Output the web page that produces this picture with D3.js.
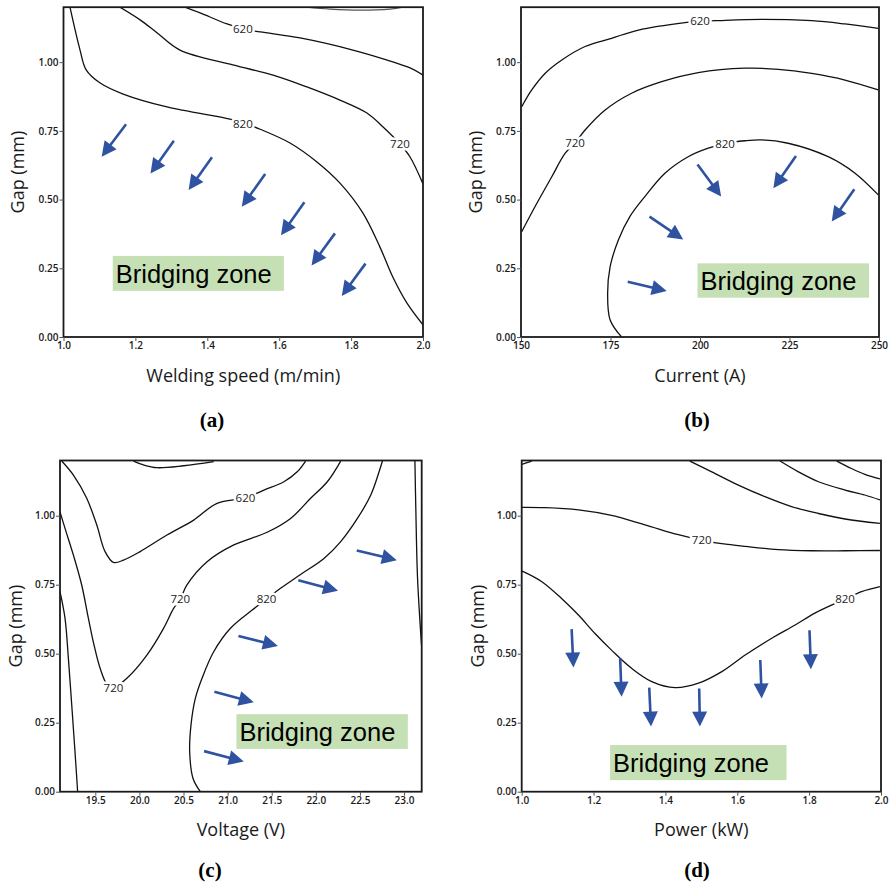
<!DOCTYPE html>
<html><head><meta charset="utf-8">
<script src="https://cdn.jsdelivr.net/npm/d3@7/dist/d3.min.js"></script>
<style>body{margin:0;background:#fff}</style>
</head><body>
<svg id="chart" width="893" height="885" xmlns="http://www.w3.org/2000/svg"></svg>
<script>
// ---------------- DATA ----------------
const gapTicks = [0, 0.25, 0.5, 0.75, 1.0];
const speedTicks = [1.0, 1.2, 1.4, 1.6, 1.8, 2.0];
const currentTicks = [150, 175, 200, 225, 250];
const voltageTicks = [19.5, 20.0, 20.5, 21.0, 21.5, 22.0, 22.5, 23.0];
const powerTicks = [1.0, 1.2, 1.4, 1.6, 1.8, 2.0];

// (a) Welding speed vs gap — contour lines [speed, gap]
const speedTopArc = [[1.677,1.2],[1.741,1.193],[1.824,1.189],[1.908,1.193],[1.944,1.2]];
const speed620 = [[1.338,1.2],[1.380,1.179],[1.455,1.139],[1.499,1.121],[1.547,1.110],[1.658,1.088],[1.805,1.044],[1.916,1.001],[1.964,0.979],[2.0,0.953]];
const speed720 = [[1.157,1.2],[1.213,1.154],[1.260,1.107],[1.324,1.044],[1.471,0.990],[1.583,0.953],[1.677,0.910],[1.769,0.862],[1.844,0.815],[1.889,0.764],[1.936,0.702],[1.964,0.655],[2.0,0.557]];
const speed820 = [[1.018,1.2],[1.046,1.044],[1.063,0.972],[1.102,0.924],[1.166,0.884],[1.288,0.837],[1.463,0.793],[1.499,0.780],[1.547,0.756],[1.630,0.706],[1.705,0.637],[1.769,0.560],[1.833,0.451],[1.880,0.328],[1.916,0.218],[1.955,0.124],[2.0,0.044]];
const speedLabels = [["620",1.499,1.121],["820",1.499,0.776],["720",1.936,0.702]];
const speedArrows = [[1.174,0.774,1.106,0.656],[1.307,0.714,1.242,0.595],[1.413,0.654,1.348,0.535],[1.561,0.593,1.496,0.474],[1.670,0.490,1.605,0.370],[1.755,0.377,1.690,0.260],[1.840,0.267,1.774,0.149]];

// (b) Current vs gap
const current620 = [[150.2,0.838],[153.0,0.899],[156.7,0.959],[161.4,1.008],[167.9,1.057],[175.3,1.087],[182.8,1.117],[195.8,1.144],[200.0,1.149],[204.2,1.151],[217.2,1.156],[231.2,1.151],[240.5,1.139],[249.8,1.123]];
const current720 = [[150.2,0.383],[153.9,0.474],[158.6,0.583],[162.3,0.668],[165.1,0.706],[167.9,0.753],[173.5,0.826],[180.9,0.887],[189.3,0.929],[199.5,0.962],[212.6,0.978],[221.9,0.974],[231.2,0.959],[240.5,0.935],[249.8,0.899]];
const current820 = [[178.1,0.0],[174.9,0.062],[174.2,0.159],[174.9,0.256],[177.2,0.353],[180.4,0.438],[184.6,0.511],[190.2,0.596],[196.7,0.656],[202.3,0.687],[207.0,0.704],[212.6,0.714],[217.2,0.717],[224.6,0.705],[235.8,0.656],[243.3,0.596],[249.8,0.517]];
const currentLabels = [["620",200.0,1.149],["720",165.1,0.706],["820",207.0,0.704]];
const currentArrows = [[199.3,0.628,205.9,0.511],[226.8,0.659,220.5,0.541],[243.1,0.538,236.8,0.420],[185.9,0.438,195.3,0.355],[179.8,0.201,190.7,0.167]];

// (c) Voltage vs gap
const voltageLeft = [[19.10,0.725],[19.157,0.628],[19.195,0.483],[19.233,0.314],[19.270,0.145],[19.30,0.0]];
const voltageTopArc = [[19.933,1.198],[20.047,1.184],[20.198,1.174],[20.502,1.181],[20.842,1.196]];
const voltage620 = [[19.119,1.198],[19.252,1.147],[19.403,1.063],[19.517,0.966],[19.611,0.870],[19.706,0.831],[19.820,0.839],[20.009,0.870],[20.312,0.930],[20.615,0.984],[20.880,1.045],[21.202,1.065],[21.411,1.093],[21.638,1.123],[21.789,1.159],[21.884,1.198]];
const voltage720 = [[19.10,1.014],[19.157,0.954],[19.252,0.857],[19.346,0.749],[19.422,0.628],[19.486,0.531],[19.555,0.447],[19.640,0.385],[19.706,0.377],[19.858,0.411],[20.085,0.495],[20.274,0.592],[20.388,0.664],[20.464,0.698],[20.539,0.749],[20.767,0.833],[21.070,0.894],[21.448,0.940],[21.714,0.990],[21.941,1.063],[22.130,1.123],[22.282,1.198]];
const voltage820 = [[20.691,0.0],[20.608,0.048],[20.570,0.145],[20.585,0.242],[20.634,0.338],[20.710,0.411],[20.842,0.507],[21.032,0.592],[21.278,0.658],[21.441,0.698],[21.600,0.737],[21.827,0.787],[22.092,0.845],[22.282,0.906],[22.471,0.990],[22.623,1.075],[22.717,1.159],[22.755,1.198]];
const voltageRight = [[23.123,1.2],[23.134,1.014],[23.153,0.773],[23.198,0.531]];
const voltageLabels = [["620",21.202,1.065],["720",20.464,0.698],["720",19.706,0.377],["820",21.441,0.698]];
const voltageArrows = [[22.464,0.874,22.918,0.839],[21.801,0.766,22.252,0.728],[21.123,0.564,21.570,0.528],[20.850,0.362,21.297,0.324],[20.733,0.147,21.183,0.109]];

// (d) Power vs gap
const powerCorner = [[1.0,1.186],[1.028,1.198]];
const powerTop1 = [[1.468,1.198],[1.529,1.159],[1.603,1.111],[1.677,1.069],[1.751,1.033],[1.826,1.008],[1.900,0.988],[1.997,0.972]];
const powerTop2 = [[1.719,1.198],[1.770,1.159],[1.826,1.123],[1.900,1.093],[1.955,1.075],[1.997,1.057]];
const powerTop3 = [[1.877,1.198],[1.918,1.171],[1.955,1.150],[1.997,1.133]];
const power720 = [[1.0,1.030],[1.065,1.029],[1.158,1.021],[1.250,1.001],[1.343,0.967],[1.436,0.931],[1.501,0.911],[1.557,0.899],[1.622,0.889],[1.714,0.877],[1.807,0.873],[1.900,0.873],[1.997,0.874]];
const power820 = [[1.0,0.800],[1.056,0.761],[1.111,0.700],[1.158,0.640],[1.204,0.573],[1.250,0.513],[1.306,0.447],[1.362,0.399],[1.427,0.377],[1.492,0.393],[1.557,0.435],[1.622,0.495],[1.696,0.556],[1.761,0.604],[1.816,0.647],[1.900,0.698],[1.946,0.725],[1.997,0.743]];
const powerLabels = [["720",1.501,0.911],["820",1.900,0.698]];
const powerArrows = [[1.139,0.589,1.144,0.450],[1.274,0.483,1.278,0.344],[1.355,0.377,1.360,0.236],[1.494,0.374,1.496,0.236],[1.664,0.477,1.668,0.338],[1.801,0.585,1.805,0.444]];

const zoneText = "Bridging zone";

// ---------------- LAYOUT ----------------
const panels = [
  {frame:{l:63.5,r:423,t:7.2,b:337}, xDomain:[1.0,2.0], xTicks:speedTicks, xFmt:".1f", xTitle:"Welding speed (m/min)",
   lines:[speedTopArc,speed620,speed720,speed820], labels:speedLabels, arrows:speedArrows,
   zone:[1.137,0.295,1.613,0.168], tag:"(a)", tagX:212, tagY:427, yTitleX:18, xTitleY:382, faint:[0]},
  {frame:{l:521,r:879,t:7.2,b:337}, xDomain:[150,250], xTicks:currentTicks, xFmt:"d", xTitle:"Current (A)",
   lines:[current620,current720,current820], labels:currentLabels, arrows:currentArrows,
   zone:[199.3,0.268,247.2,0.143], tag:"(b)", tagX:697, tagY:427, yTitleX:476, xTitleY:382, faint:[]},
  {frame:{l:60,r:421.7,t:460.5,b:791.7}, xDomain:[19.1,23.2], xTicks:voltageTicks, xFmt:".1f", xTitle:"Voltage (V)",
   lines:[voltageLeft,voltageTopArc,voltage620,voltage720,voltage820,voltageRight], labels:voltageLabels, arrows:voltageArrows,
   zone:[21.1,0.281,23.043,0.155], tag:"(c)", tagX:210, tagY:877, yTitleX:16, xTitleY:836, faint:[]},
  {frame:{l:521.7,r:881,t:460.5,b:791.7}, xDomain:[1.0,2.0], xTicks:powerTicks, xFmt:".1f", xTitle:"Power (kW)",
   lines:[powerCorner,powerTop1,powerTop2,powerTop3,power720,power820], labels:powerLabels, arrows:powerArrows,
   zone:[1.246,0.169,1.737,0.042], tag:"(d)", tagX:697, tagY:877, yTitleX:478, xTitleY:836, faint:[]}
];

const svg = d3.select("#chart");
const arrowColor = "#2f53a1";
const uiFont = "'Open Sans','Noto Sans',sans-serif";

panels.forEach((p, pi) => {
  const f = p.frame;
  const x = d3.scaleLinear().domain(p.xDomain).range([f.l, f.r]);
  const y = d3.scaleLinear().domain([0, 1.2]).range([f.b, f.t]);
  const g = svg.append("g");
  const clipId = "clip" + pi;
  g.append("clipPath").attr("id", clipId).append("rect")
    .attr("x", f.l).attr("y", f.t).attr("width", f.r - f.l).attr("height", f.b - f.t);

  const line = d3.line().x(d => x(d[0])).y(d => y(d[1])).curve(d3.curveCatmullRom.alpha(0.5));
  const plot = g.append("g").attr("clip-path", `url(#${clipId})`);
  plot.selectAll("path.c").data(p.lines).join("path")
    .attr("d", line).attr("fill", "none")
    .attr("stroke", (d,i) => p.faint.includes(i) ? "#555" : "#111")
    .attr("stroke-width", 1.3);

  // contour labels
  plot.selectAll("text.lab").data(p.labels).join("text")
    .attr("x", d => x(d[1])).attr("y", d => y(d[2]))
    .attr("dy", "0.35em").attr("text-anchor", "middle")
    .attr("font-family", uiFont).attr("font-size", 11.5).attr("fill", "#222")
    .attr("stroke", "#fff").attr("stroke-width", 5).attr("paint-order", "stroke")
    .text(d => d[0]);

  // frame
  g.append("rect").attr("x", f.l).attr("y", f.t).attr("width", f.r - f.l).attr("height", f.b - f.t)
    .attr("fill", "none").attr("stroke", "#1a1a1a").attr("stroke-width", 1.8);

  // axes
  const xAxis = d3.axisBottom(x).tickValues(p.xTicks).tickFormat(d3.format(p.xFmt)).tickSize(4).tickPadding(1);
  const yAxis = d3.axisLeft(y).tickValues(gapTicks).tickFormat(d3.format(".2f")).tickSize(4).tickPadding(1);
  const gx = g.append("g").attr("transform", `translate(0,${f.b})`).call(xAxis);
  const gy = g.append("g").attr("transform", `translate(${f.l},0)`).call(yAxis);
  [gx, gy].forEach(a => {
    a.select(".domain").remove();
    a.selectAll("line").attr("stroke", "#555");
    a.selectAll("text").attr("font-family", uiFont).attr("font-size", 10).attr("font-weight", 600).attr("fill", "#1a1a1a");
  });

  // axis titles
  g.append("text").attr("x", (f.l + f.r) / 2).attr("y", p.xTitleY).attr("text-anchor", "middle")
    .attr("font-family", uiFont).attr("font-size", 18).attr("fill", "#1a1a1a").text(p.xTitle);
  g.append("text").attr("transform", `translate(${p.yTitleX},${(f.t + f.b) / 2}) rotate(-90)`)
    .attr("text-anchor", "middle").attr("dy", "0.35em")
    .attr("font-family", uiFont).attr("font-size", 18).attr("fill", "#1a1a1a").text("Gap (mm)");

  // bridging zone
  const z = p.zone;
  const zg = g.append("g");
  zg.append("rect").attr("x", x(z[0])).attr("y", y(z[1])).attr("width", x(z[2]) - x(z[0])).attr("height", y(z[3]) - y(z[1]))
    .attr("fill", "#c5e0b4");
  zg.append("text").attr("x", x(z[0]) + 3).attr("y", (y(z[1]) + y(z[3])) / 2).attr("dy", "0.36em")
    .attr("font-family", "'Liberation Sans',Arial,sans-serif").attr("font-size", 25.5).attr("fill", "#000")
    .text(zoneText);

  // arrows
  const L = 15, W = 7.5;
  p.arrows.forEach(a => {
    const sx = x(a[0]), sy = y(a[1]), ex = x(a[2]), ey = y(a[3]);
    const dx = ex - sx, dy = ey - sy, len = Math.hypot(dx, dy);
    const ux = dx / len, uy = dy / len, px = -uy, py = ux;
    const bx = ex - ux * L, by = ey - uy * L;
    g.append("line").attr("x1", sx).attr("y1", sy).attr("x2", bx + ux * 2).attr("y2", by + uy * 2)
      .attr("stroke", arrowColor).attr("stroke-width", 2.6);
    g.append("path").attr("d", `M${ex},${ey}L${bx + px * W},${by + py * W}L${bx - px * W},${by - py * W}Z`)
      .attr("fill", arrowColor);
  });

  // panel tag
  svg.append("text").attr("x", p.tagX).attr("y", p.tagY).attr("text-anchor", "middle")
    .attr("font-family", "'Liberation Serif','Times New Roman',serif").attr("font-weight", "bold")
    .attr("font-size", 21).attr("fill", "#000").text(p.tag);
});
</script>
</body></html>
